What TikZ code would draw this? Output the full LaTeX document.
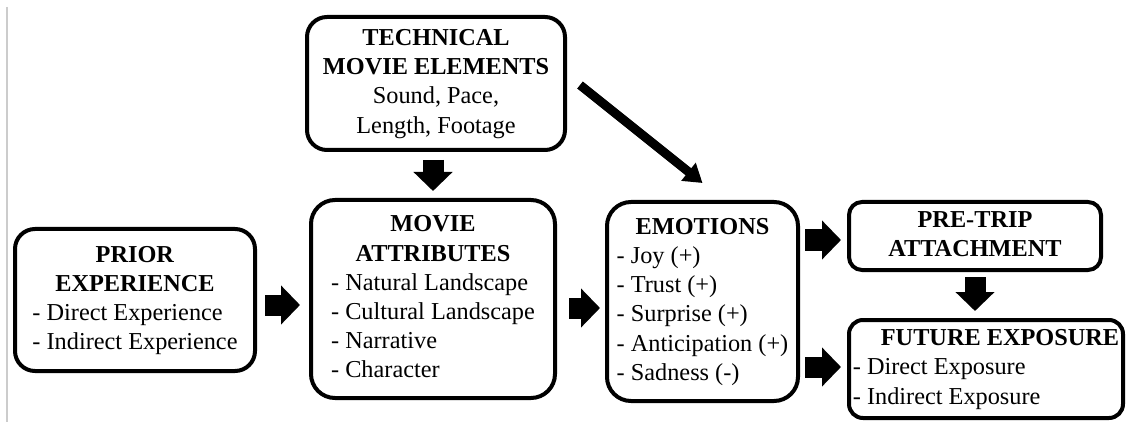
\documentclass[tikz,border=0pt]{standalone}
\usepackage{fontspec}
\setmainfont{Liberation Serif}
\usetikzlibrary{arrows.meta,calc}
\newcommand\mytitle[1]{\multicolumn{1}{@{}c@{}}{\textbf{#1}}}
\begin{document}
\begin{tikzpicture}[x=1pt,y=-1pt,
  box/.style={draw=black, line width=4pt, rounded corners=#1, inner sep=0pt,
    align=center, font=\fontsize{24.3}{29.2}\selectfont},
  box/.default=18pt,
  fat/.style={line width=21pt, -{Triangle[length=19pt,width=38pt]}},
  slim/.style={line width=9pt, -{Triangle[length=18pt,width=22pt]}}]
\useasboundingbox (0,0) rectangle (1127,422);
\draw[gray!40, line width=1.2pt] (7,7) -- (7,422);

\node[box=20pt, minimum width=240pt, minimum height=142pt] (prior) at (135,300)
  {\begin{tabular}{@{}l@{}}\mytitle{PRIOR}\\ \mytitle{EXPERIENCE}\\ - Direct Experience\\ - Indirect Experience\end{tabular}};

\node[box=20pt, minimum width=258pt, minimum height=133pt] (tech) at (436,83.5)
  {\begin{tabular}{@{}c@{}}\textbf{TECHNICAL}\\ \textbf{MOVIE ELEMENTS}\\ Sound, Pace,\\ Length, Footage\end{tabular}};

\node[box=24pt, minimum width=244pt, minimum height=198pt] (movie) at (433,299)
  {\begin{tabular}{@{}l@{}}\mytitle{MOVIE}\\ \mytitle{ATTRIBUTES}\\ - Natural Landscape\\ - Cultural Landscape\\ - Narrative\\ - Character\end{tabular}};

\node[box=24pt, minimum width=191pt, minimum height=199pt] (emo) at (702.5,301.5)
  {\begin{tabular}{@{}l@{}}\mytitle{EMOTIONS}\\ - Joy (+)\\ - Trust (+)\\ - Surprise (+)\\ - Anticipation (+)\\ - Sadness (-)\end{tabular}};

\node[box=13pt, minimum width=252pt, minimum height=68pt] (pre) at (975,236)
  {\begin{tabular}{@{}c@{}}\textbf{PRE-TRIP}\\ \textbf{ATTACHMENT}\end{tabular}};

\node[box=14pt, minimum width=274pt, minimum height=98pt] (fut) at (986,369)
  {\begin{tabular}{@{}l@{}}\hspace*{28pt}\textbf{FUTURE EXPOSURE}\\ - Direct Exposure\\ - Indirect Exposure\end{tabular}};

\draw[fat] ($(prior.east)+(8,5)$) -- ($(movie.west)+(-9,6)$);
\draw[fat] ($(tech.south)+(-3,8)$) -- ($(movie.north)+(0,-7)$);
\draw[fat] ($(movie.east)+(12,9)$) -- ($(emo.west)+(-5,6.5)$);
\draw[slim] ($(tech.east)+(13,1.5)$) -- ($(emo.north)+(0,-17)$);
\draw[fat] ($(emo.east |- pre.west)+(5,4)$) -- ($(pre.west)+(-6,4)$);
\draw[fat] ($(emo.east |- fut.west)+(5,-2)$) -- ($(fut.west)+(-6,-2)$);
\draw[fat] ($(pre.south)+(0,5)$) -- ($(pre.south |- fut.north)+(0,-7)$);
\end{tikzpicture}
\end{document}
